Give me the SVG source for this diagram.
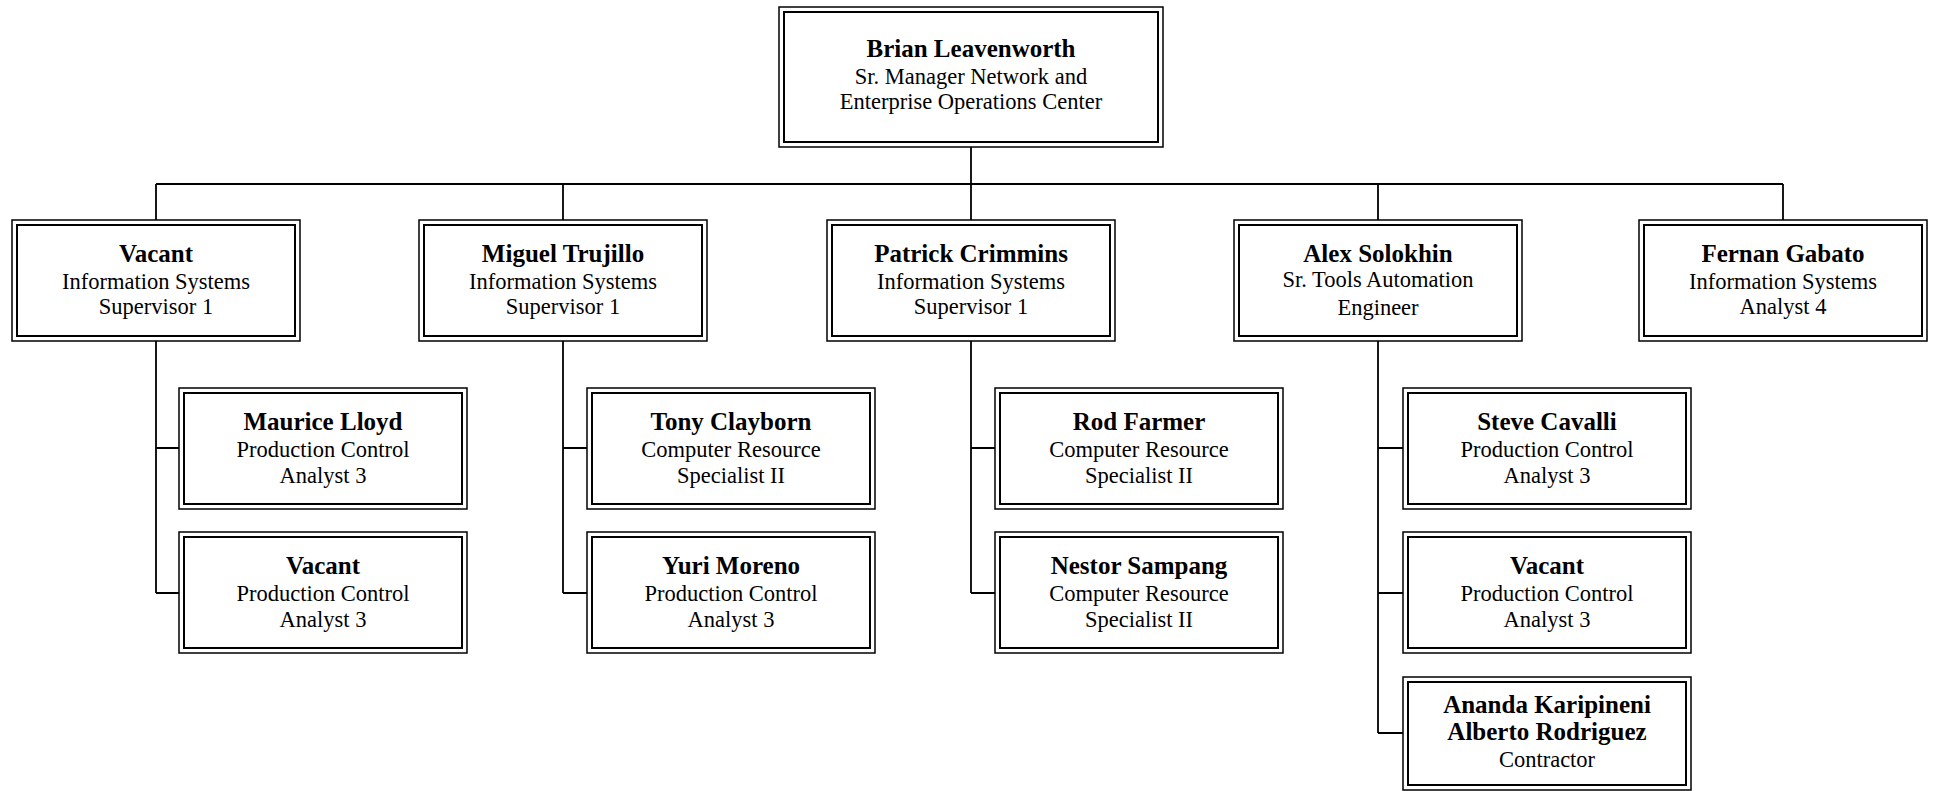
<svg xmlns="http://www.w3.org/2000/svg" width="1933" height="791" viewBox="0 0 1933 791">
<style>
.o{fill:#fff;stroke:#000;stroke-width:1.5}
.i{fill:none;stroke:#000;stroke-width:2}
.c{fill:none;stroke:#000;stroke-width:1.8}
text{font-family:"Liberation Serif","Times New Roman",serif;text-anchor:middle;fill:#000}
.n{font-weight:bold;font-size:25px}
.t{font-size:22.5px}
</style>
<rect width="1933" height="791" fill="#fff"/>
<g id="connectors">
<path class="c" d="M971,147V184M156,184H1783M156,184V220M563,184V220M971,184V220M1378,184V220M1783,184V220"/>
<path class="c" d="M156,341V593M156,448H179M156,593H179"/>
<path class="c" d="M563,341V593M563,448H587M563,593H587"/>
<path class="c" d="M971,341V593M971,448H995M971,593H995"/>
<path class="c" d="M1378,341V733M1378,448H1403M1378,593H1403M1378,733H1403"/>
</g>
<g id="n-brian">
<rect class="o" x="779" y="7" width="384" height="140"/><rect class="i" x="784" y="12" width="374" height="130"/>
<text x="971" y="57" class="n">Brian Leavenworth</text>
<text x="971" y="84" class="t">Sr. Manager Network and</text>
<text x="971" y="109" class="t">Enterprise Operations Center</text>
</g>
<g id="n-vacant1">
<rect class="o" x="12" y="220" width="288" height="121"/><rect class="i" x="17" y="225" width="278" height="111"/>
<text x="156" y="262" class="n">Vacant</text>
<text x="156" y="289" class="t">Information Systems</text>
<text x="156" y="314" class="t">Supervisor 1</text>
</g>
<g id="n-miguel">
<rect class="o" x="419" y="220" width="288" height="121"/><rect class="i" x="424" y="225" width="278" height="111"/>
<text x="563" y="262" class="n">Miguel Trujillo</text>
<text x="563" y="289" class="t">Information Systems</text>
<text x="563" y="314" class="t">Supervisor 1</text>
</g>
<g id="n-patrick">
<rect class="o" x="827" y="220" width="288" height="121"/><rect class="i" x="832" y="225" width="278" height="111"/>
<text x="971" y="262" class="n">Patrick Crimmins</text>
<text x="971" y="289" class="t">Information Systems</text>
<text x="971" y="314" class="t">Supervisor 1</text>
</g>
<g id="n-alex">
<rect class="o" x="1234" y="220" width="288" height="121"/><rect class="i" x="1239" y="225" width="278" height="111"/>
<text x="1378" y="262" class="n">Alex Solokhin</text>
<text x="1378" y="287" class="t">Sr. Tools Automation</text>
<text x="1378" y="315" class="t">Engineer</text>
</g>
<g id="n-fernan">
<rect class="o" x="1639" y="220" width="288" height="121"/><rect class="i" x="1644" y="225" width="278" height="111"/>
<text x="1783" y="262" class="n">Fernan Gabato</text>
<text x="1783" y="289" class="t">Information Systems</text>
<text x="1783" y="314" class="t">Analyst 4</text>
</g>
<g id="n-maurice">
<rect class="o" x="179" y="388" width="288" height="121"/><rect class="i" x="184" y="393" width="278" height="111"/>
<text x="323" y="430" class="n">Maurice Lloyd</text>
<text x="323" y="457" class="t">Production Control</text>
<text x="323" y="483" class="t">Analyst 3</text>
</g>
<g id="n-vacant2">
<rect class="o" x="179" y="532" width="288" height="121"/><rect class="i" x="184" y="537" width="278" height="111"/>
<text x="323" y="574" class="n">Vacant</text>
<text x="323" y="601" class="t">Production Control</text>
<text x="323" y="627" class="t">Analyst 3</text>
</g>
<g id="n-tony">
<rect class="o" x="587" y="388" width="288" height="121"/><rect class="i" x="592" y="393" width="278" height="111"/>
<text x="731" y="430" class="n">Tony Clayborn</text>
<text x="731" y="457" class="t">Computer Resource</text>
<text x="731" y="483" class="t">Specialist II</text>
</g>
<g id="n-yuri">
<rect class="o" x="587" y="532" width="288" height="121"/><rect class="i" x="592" y="537" width="278" height="111"/>
<text x="731" y="574" class="n">Yuri Moreno</text>
<text x="731" y="601" class="t">Production Control</text>
<text x="731" y="627" class="t">Analyst 3</text>
</g>
<g id="n-rod">
<rect class="o" x="995" y="388" width="288" height="121"/><rect class="i" x="1000" y="393" width="278" height="111"/>
<text x="1139" y="430" class="n">Rod Farmer</text>
<text x="1139" y="457" class="t">Computer Resource</text>
<text x="1139" y="483" class="t">Specialist II</text>
</g>
<g id="n-nestor">
<rect class="o" x="995" y="532" width="288" height="121"/><rect class="i" x="1000" y="537" width="278" height="111"/>
<text x="1139" y="574" class="n">Nestor Sampang</text>
<text x="1139" y="601" class="t">Computer Resource</text>
<text x="1139" y="627" class="t">Specialist II</text>
</g>
<g id="n-steve">
<rect class="o" x="1403" y="388" width="288" height="121"/><rect class="i" x="1408" y="393" width="278" height="111"/>
<text x="1547" y="430" class="n">Steve Cavalli</text>
<text x="1547" y="457" class="t">Production Control</text>
<text x="1547" y="483" class="t">Analyst 3</text>
</g>
<g id="n-vacant3">
<rect class="o" x="1403" y="532" width="288" height="121"/><rect class="i" x="1408" y="537" width="278" height="111"/>
<text x="1547" y="574" class="n">Vacant</text>
<text x="1547" y="601" class="t">Production Control</text>
<text x="1547" y="627" class="t">Analyst 3</text>
</g>
<g id="n-contractor">
<rect class="o" x="1403" y="677" width="288" height="113"/><rect class="i" x="1408" y="682" width="278" height="103"/>
<text x="1547" y="713" class="n">Ananda Karipineni</text>
<text x="1547" y="740" class="n">Alberto Rodriguez</text>
<text x="1547" y="767" class="t">Contractor</text>
</g>
</svg>
